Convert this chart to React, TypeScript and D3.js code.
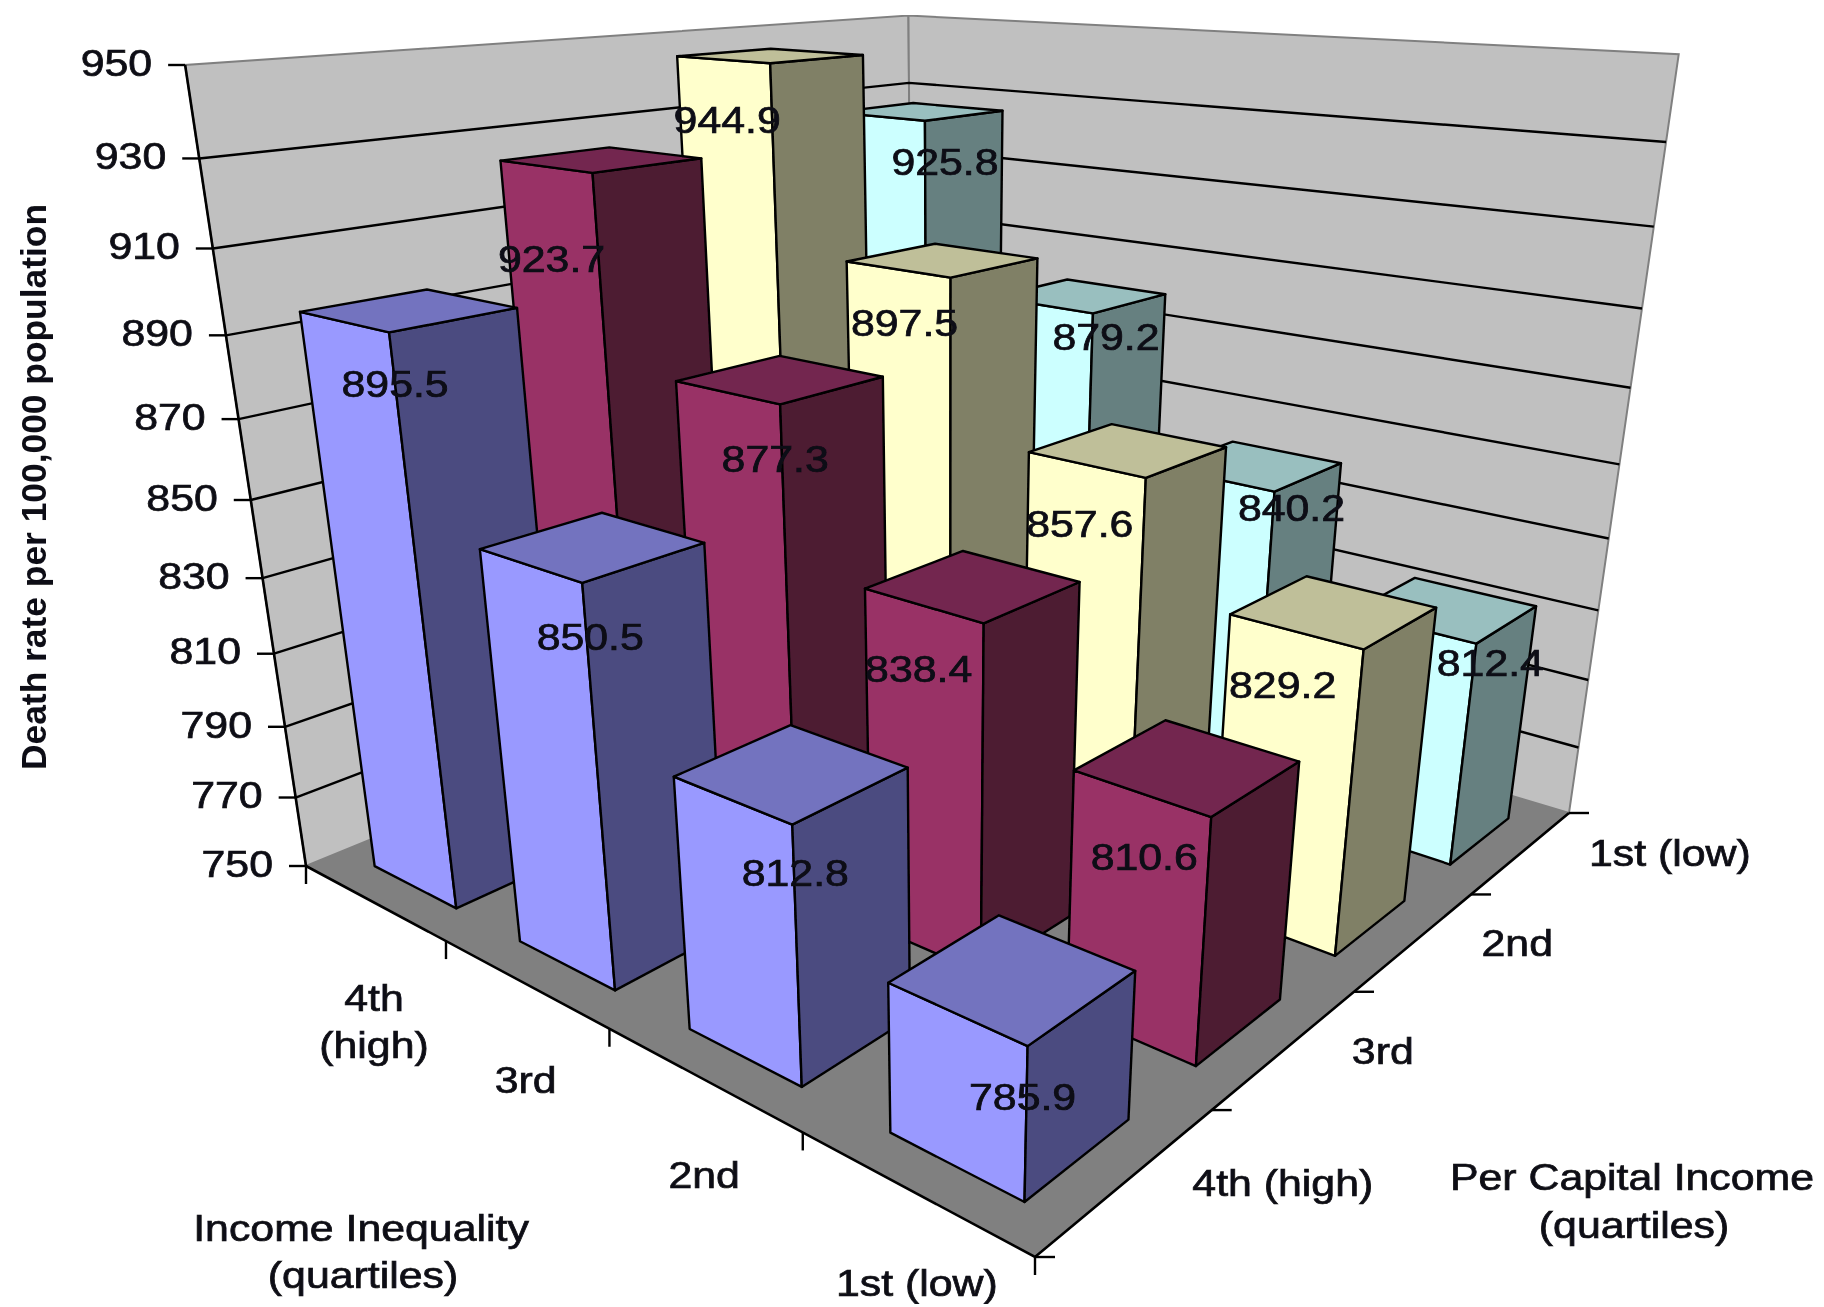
import React from "react";
import * as d3 from "d3";

const inequalityLabels = ["4th (high)", "3rd", "2nd", "1st (low)"];
const incomeLabels = ["1st (low)", "2nd", "3rd", "4th (high)"];
const valueTicks = [750, 770, 790, 810, 830, 850, 870, 890, 910, 930, 950];
const income1st = [925.8, 879.2, 840.2, 812.4];
const income2nd = [944.9, 897.5, 857.6, 829.2];
const income3rd = [923.7, 877.3, 838.4, 810.6];
const income4th = [895.5, 850.5, 812.8, 785.9];
const seriesValues = [income1st, income2nd, income3rd, income4th];
const faceColors = [
  ["#CCFFFF", "#668080", "#99BFBF"],
  ["#FFFFCC", "#808066", "#BFBF99"],
  ["#993366", "#4D1A33", "#732650"],
  ["#9999FF", "#4C4C80", "#7373BF"],
];
// Label nudges relative to each bar's nearest top corner (layout only)
const labelNudge = [
  [[20, 42], [13, 24], [17, 17], [14, 20]],
  [[-43, 57], [-46, 46], [-66, 46], [-81, 36]],
  [[-41, 86], [-5, 55], [-65, 46], [-67, 40]],
  [[6, 52], [8, 54], [3, 49], [-5, 51]],
];

const W = 1824, H = 1307;
type P = [number, number];
const A: P = [306, 866], F: P = [1035, 1257], C: P = [1569, 813], B: P = [913, 617];
const topA: P = [186, 65];
const VP: P = [947, 5114];

// Homography of the floor: (u along B→C, v along B→A)
const dx1 = C[0] - F[0], dx2 = A[0] - F[0], sx = B[0] - C[0] + F[0] - A[0];
const dy1 = C[1] - F[1], dy2 = A[1] - F[1], sy = B[1] - C[1] + F[1] - A[1];
const den = dx1 * dy2 - dx2 * dy1;
const g = (sx * dy2 - dx2 * sy) / den, h = (dx1 * sy - sx * dy1) / den;
const a = C[0] - B[0] + g * C[0], b = A[0] - B[0] + h * A[0];
const d = C[1] - B[1] + g * C[1], e = A[1] - B[1] + h * A[1];
const W0 = h + 1;
const Y0 = e + B[1];
const s = (Y0 - topA[1] * W0) / (topA[1] - VP[1]);

const project = (u: number, v: number, w: number): P => {
  const k = g * u + h * v + 1 + s * w;
  return [(a * u + b * v + B[0] + s * VP[0] * w) / k, (d * u + e * v + B[1] + s * VP[1] * w) / k];
};

const yScale = d3.scaleLinear().domain([750, 950]).range([0, 1]);
const uBand = d3.scaleBand<number>().domain([0, 1, 2, 3]).range([0, 1]).paddingInner(0.42).paddingOuter(0.21).align(0.548);
const vBand = d3.scaleBand<number>().domain([0, 1, 2, 3]).range([0, 1]).paddingInner(0.42).paddingOuter(0.21).align(0.548);
const poly = d3.line<P>().curve(d3.curveLinearClosed);
const seg = d3.line<P>();

const FONT = "'Liberation Sans', Arial, sans-serif";
const Txt = ({ x, y, t, anchor = "middle" }: { x: number; y: number; t: string; anchor?: string }) => (
  <text
    transform={`translate(${x},${y}) scale(1.19,1)`}
    textAnchor={anchor}
    dominantBaseline="central"
    fontFamily={FONT}
    fontSize={36}
    fill="#0c0c14"
    stroke="#0c0c14"
    strokeWidth={0.7}
  >
    {t}
  </text>
);

export default function App() {
  const uTick = (i: number) => project(i / 4 + 0, 1, 0);
  const vTick = (i: number) => project(1, i / 4, 0);
  const bars = seriesValues.flatMap((row, q) => row.map((val, p) => ({ p, q, val })));
  bars.sort((m, n) => m.q - n.q || m.p - n.p);

  return (
    <svg width={W} height={H} style={{ position: "absolute", left: 0, top: 0, background: "#fff" }}>
      <defs>
        <filter id="soft" x="0" y="0" width="100%" height="100%">
          <feGaussianBlur stdDeviation="0.6" />
        </filter>
      </defs>
      <g filter="url(#soft)">
        {/* walls */}
        <path d={poly([project(0, 1, 0), project(0, 1, 1), project(0, 0, 1), project(0, 0, 0)])!} fill="#C0C0C0" stroke="#808080" strokeWidth={2} />
        <path d={poly([project(0, 0, 0), project(0, 0, 1), project(1, 0, 1), project(1, 0, 0)])!} fill="#C0C0C0" stroke="#808080" strokeWidth={2} />
        <path d={poly([project(0, 0, 0), project(1, 0, 0), project(1, 1, 0), project(0, 1, 0)])!} fill="#808080" />
        {/* gridlines */}
        {valueTicks.slice(1, -1).map((t) => (
          <path key={t} d={seg([project(0, 1, yScale(t)), project(0, 0, yScale(t)), project(1, 0, yScale(t))])!} fill="none" stroke="#000" strokeWidth={2.4} />
        ))}
        {/* axis lines */}
        <path d={seg([project(0, 1, 1), project(0, 1, 0)])!} fill="none" stroke="#000" strokeWidth={2.6} />
        <path d={seg([project(0, 1, 0), project(1, 1, 0), project(1, 0, 0)])!} fill="none" stroke="#000" strokeWidth={2.6} />
        {/* value ticks */}
        {valueTicks.map((t) => {
          const [x, y] = project(0, 1, yScale(t));
          return (
            <g key={t}>
              <path d={seg([[x - 17, y], [x, y]])!} stroke="#000" strokeWidth={2.4} />
              <Txt x={x - 33} y={y - 2} t={String(t)} anchor="end" />
            </g>
          );
        })}
        {/* floor ticks */}
        {[0, 1, 2, 3, 4].map((i) => {
          const [x, y] = uTick(i);
          return <path key={i} d={seg([[x, y], [x, y + 18]])!} stroke="#000" strokeWidth={2.4} />;
        })}
        {[0, 1, 2, 3, 4].map((i) => {
          const [x, y] = vTick(i);
          return <path key={i} d={seg([[x, y], [x + 20, y]])!} stroke="#000" strokeWidth={2.4} />;
        })}
        {/* bars */}
        {bars.map(({ p, q, val }) => {
          const u0 = uBand(p)!, u1 = u0 + uBand.bandwidth();
          const v0 = vBand(q)!, v1 = v0 + vBand.bandwidth();
          const w = yScale(val);
          const [c0, c1, c2] = faceColors[q];
          const left = [project(u0, v1, 0), project(u1, v1, 0), project(u1, v1, w), project(u0, v1, w)] as P[];
          const right = [project(u1, v1, 0), project(u1, v0, 0), project(u1, v0, w), project(u1, v1, w)] as P[];
          const top = [project(u0, v1, w), project(u1, v1, w), project(u1, v0, w), project(u0, v0, w)] as P[];
          return (
            <g key={`${p}-${q}`} stroke="#000" strokeWidth={2.4} strokeLinejoin="round">
              <path d={poly(left)!} fill={c0} />
              <path d={poly(right)!} fill={c1} />
              <path d={poly(top)!} fill={c2} />
            </g>
          );
        })}
        {/* data labels */}
        {bars.map(({ p, q, val }) => {
          const u1 = uBand(p)! + uBand.bandwidth();
          const v1 = vBand(q)! + vBand.bandwidth();
          const [x, y] = project(u1, v1, yScale(val));
          const [nx, ny] = labelNudge[q][p];
          return <Txt key={`l${p}-${q}`} x={x + nx} y={y + ny} t={val.toFixed(1)} />;
        })}
        {/* category labels: inequality axis */}
        {inequalityLabels.map((label, i) => {
          const [x0, y0] = uTick(i), [x1, y1] = uTick(i + 1);
          const x = (x0 + x1) / 2 - 2, y = Math.min((y0 + y1) / 2 + 95, 1283);
          const parts = i === 0 ? ["4th", "(high)"] : [label];
          return parts.map((t, k) => <Txt key={t} x={x} y={y + k * 47} t={t} />);
        })}
        {/* category labels: income axis */}
        {incomeLabels.map((label, i) => {
          const [x0, y0] = vTick(i), [x1, y1] = vTick(i + 1);
          return <Txt key={label} x={(x0 + x1) / 2 + 69} y={(y0 + y1) / 2} t={label} anchor="start" />;
        })}
        <Txt x={361} y={1228} t="Income Inequality" />
        <Txt x={363} y={1275} t="(quartiles)" />
        <Txt x={1632} y={1177} t="Per Capital Income" />
        <Txt x={1634} y={1225} t="(quartiles)" />
        <text
          transform="translate(33,487) rotate(-90)"
          textAnchor="middle"
          dominantBaseline="central"
          fontFamily={FONT}
          fontWeight="bold"
          fontSize={35}
          textLength={566}
          lengthAdjust="spacingAndGlyphs"
          fill="#0c0c14"
        >
          Death rate per 100,000 population
        </text>
      </g>
    </svg>
  );
}
